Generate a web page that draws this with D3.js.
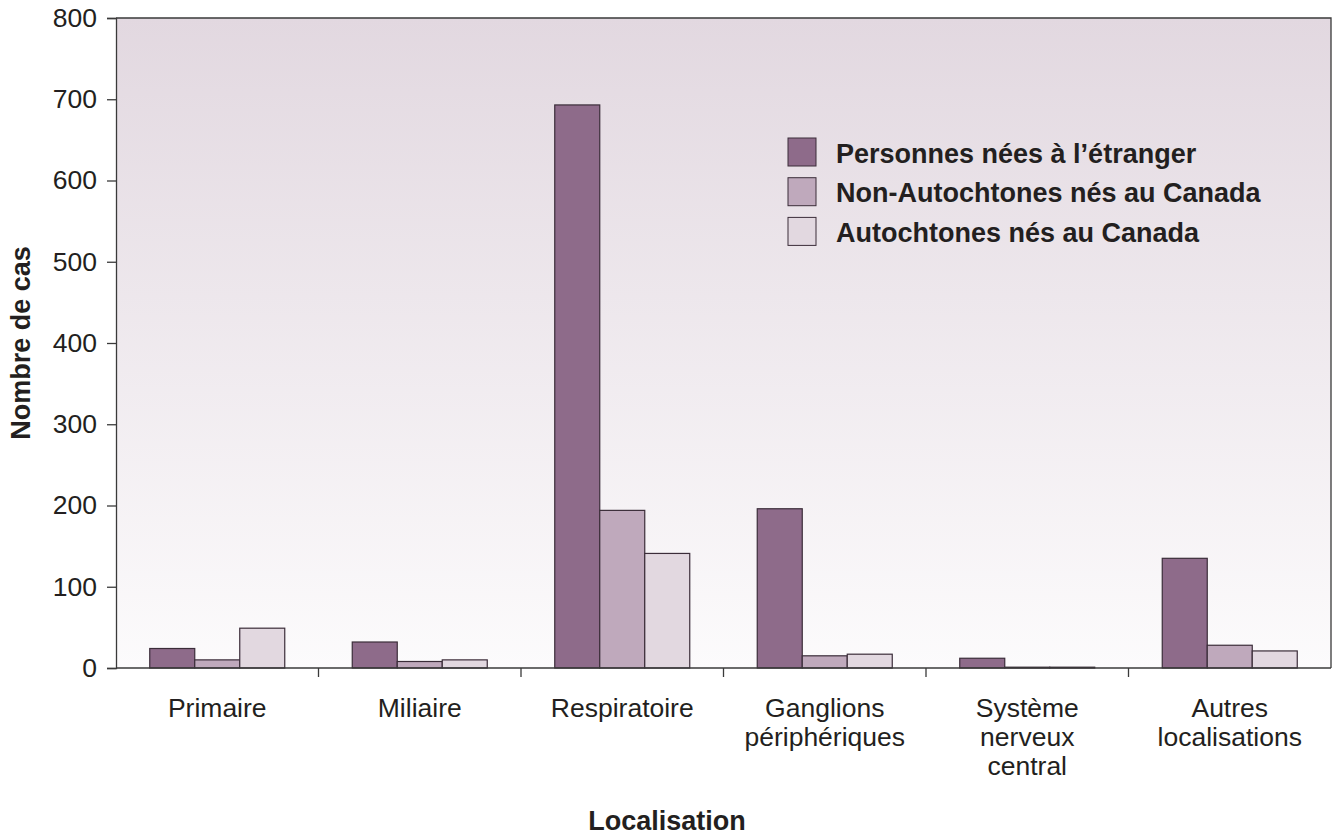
<!DOCTYPE html>
<html>
<head>
<meta charset="utf-8">
<script src="https://cdn.jsdelivr.net/npm/d3@7"></script>
<style>
  body { margin: 0; background: #fff; }
  text { font-family: "Liberation Sans", Arial, sans-serif; fill: #231f20; }
</style>
</head>
<body>
<script>
const categories = [["Primaire"], ["Miliaire"], ["Respiratoire"], ["Ganglions", "périphériques"], ["Système", "nerveux", "central"], ["Autres", "localisations"]];
const seriesNames = ["Personnes nées à l’étranger", "Non-Autochtones nés au Canada", "Autochtones nés au Canada"];
const foreignBorn = [24, 32, 693, 196, 12, 135];
const nonAboriginal = [10, 8, 194, 15, 1, 28];
const aboriginal = [49, 10, 141, 17, 1, 21];
const yTicks = [0, 100, 200, 300, 400, 500, 600, 700, 800];
const colors = ["#8e6b8a", "#bfa9bc", "#e2d8e0"];

const width = 1333, height = 836;
const margin = {top: 18, right: 2, bottom: 168, left: 116};
const series = [foreignBorn, nonAboriginal, aboriginal];

const svg = d3.select('body').append('svg')
  .attr('width', width)
  .attr('height', height);

const grad = svg.append('defs').append('linearGradient')
  .attr('id', 'bg').attr('x1', 0).attr('y1', 0).attr('x2', 0).attr('y2', 1);
grad.append('stop').attr('offset', '0%').attr('stop-color', '#e2d8e0');
grad.append('stop').attr('offset', '100%').attr('stop-color', '#fcfbfc');

const x = d3.scaleBand()
  .domain(d3.range(categories.length))
  .range([margin.left, width - margin.right])
  .paddingInner(0).paddingOuter(0);

const xInner = d3.scaleBand()
  .domain(d3.range(series.length))
  .range([0, x.bandwidth()])
  .paddingOuter(0.75);

const y = d3.scaleLinear().domain([0, 800]).range([height - margin.bottom, margin.top]);

svg.append('rect')
  .attr('x', margin.left).attr('y', margin.top)
  .attr('width', width - margin.right - margin.left)
  .attr('height', y(0) - margin.top)
  .attr('fill', 'url(#bg)');

// top and right border
svg.append('path')
  .attr('d', `M${margin.left},${margin.top}H${width - margin.right}V${y(0)}`)
  .attr('fill', 'none').attr('stroke', '#3a3a3a').attr('stroke-width', 1.3);

// bars
series.forEach((vals, s) => {
  svg.append('g').selectAll('rect')
    .data(vals)
    .enter().append('rect')
      .attr('x', (d, i) => x(i) + xInner(s))
      .attr('y', d => y(d))
      .attr('width', xInner.bandwidth())
      .attr('height', d => y(0) - y(d))
      .attr('fill', colors[s])
      .attr('stroke', '#3b2d39')
      .attr('stroke-width', 1.2);
});

// y axis
const yAxis = svg.append('g')
  .attr('transform', `translate(${margin.left},0)`)
  .call(d3.axisLeft(y).tickValues(yTicks).tickSize(9).tickPadding(10).tickFormat(d3.format('d')));
yAxis.select('.domain').attr('stroke', '#3a3a3a').attr('stroke-width', 1.3);
yAxis.selectAll('.tick line').attr('stroke', '#3a3a3a').attr('stroke-width', 1.3);
yAxis.selectAll('.tick text').style('font-size', '26.5px').attr('fill', '#231f20');

// x axis line and boundary ticks
const bounds = d3.range(1, categories.length).map(i => x(i));
svg.append('line')
  .attr('x1', margin.left).attr('x2', width - margin.right)
  .attr('y1', y(0)).attr('y2', y(0))
  .attr('stroke', '#3a3a3a').attr('stroke-width', 1.3);
svg.append('g').selectAll('line')
  .data(bounds)
  .enter().append('line')
    .attr('x1', d => d).attr('x2', d => d)
    .attr('y1', y(0)).attr('y2', y(0) + 9)
    .attr('stroke', '#3a3a3a').attr('stroke-width', 1.3);

// category labels
categories.forEach((lines, i) => {
  const t = svg.append('text')
    .attr('text-anchor', 'middle')
    .style('font-size', '26.5px');
  lines.forEach((line, j) => {
    t.append('tspan')
      .attr('x', x(i) + x.bandwidth() / 2)
      .attr('y', 717 + j * 29)
      .text(line);
  });
});

// axis titles
svg.append('text')
  .attr('x', 667)
  .attr('y', 830)
  .attr('text-anchor', 'middle')
  .style('font-size', '27px').style('font-weight', 'bold')
  .text('Localisation');

svg.append('text')
  .attr('transform', `translate(30,${(margin.top + y(0)) / 2}) rotate(-90)`)
  .attr('text-anchor', 'middle')
  .style('font-size', '27px').style('font-weight', 'bold')
  .text('Nombre de cas');

// legend
const legend = svg.append('g').attr('transform', 'translate(788,138)');
seriesNames.forEach((name, i) => {
  const g = legend.append('g').attr('transform', `translate(0,${i * 39.7})`);
  g.append('rect')
    .attr('width', 28).attr('height', 28)
    .attr('fill', colors[i]).attr('stroke', '#3b2d39').attr('stroke-width', 1);
  g.append('text')
    .attr('x', 48).attr('y', 24.5)
    .style('font-size', '27px').style('font-weight', 'bold')
    .text(name);
});
</script>
</body>
</html>
